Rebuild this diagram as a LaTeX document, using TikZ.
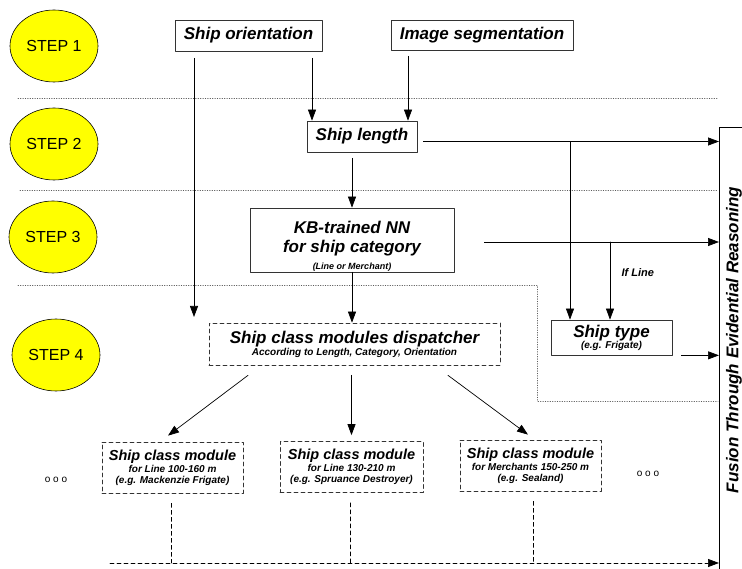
\documentclass[tikz,border=0pt]{standalone}
\usepackage{fontspec}
\setmainfont{Liberation Sans}
\usepackage{tikz}
\usetikzlibrary{arrows.meta}
\usetikzlibrary{shapes.geometric}
\definecolor{ffffqq}{rgb}{1.,1.,0.}
\definecolor{wwwwww}{rgb}{0.35,0.35,0.35}
\definecolor{uuuuuu}{rgb}{0.2,0.2,0.2}
\tikzset{
  stepnode/.style={ellipse,draw,fill=ffffqq,line width=0.6pt,minimum width=88,minimum height=72,inner sep=0pt,font=\fontsize{16}{18}\selectfont},
  box/.style={draw=uuuuuu,rectangle,inner sep=0pt,align=center,font=\fontsize{17}{20}\selectfont\bfseries\itshape},
  dashbox/.style={box,dash pattern=on 4pt off 3pt},
  modbox/.style={dashbox,minimum width=141,minimum height=51,font=\fontsize{14.5}{16}\selectfont\bfseries\itshape},
  sep/.style={wwwwww,line width=0.6pt,dash pattern=on 0.6pt off 1.8pt},
  bus/.style={dash pattern=on 4pt off 3pt}
}
\newcommand{\subtext}[1]{{\fontsize{10}{12}\selectfont #1}}
\begin{document}
\begin{tikzpicture}[line cap=round,line join=round,>={Triangle[length=11pt,width=8pt]},x=1pt,y=-1pt,line width=0.7pt]
\useasboundingbox (0,0) rectangle (742,569);
% steps
\node[stepnode] (step1) at (54,46) {STEP 1};
\node[stepnode] (step2) at (54,144) {STEP 2};
\node[stepnode] (step3) at (53,237) {STEP 3};
\node[stepnode] (step4) at (56,355) {STEP 4};
% separators between the steps
\draw[sep] (18,98) -- (718,98);
\draw[sep] (20,190) -- (718,190);
\draw[sep] (18,285) -- (537,285) -- (537,401) -- (718,401);
% boxes
\node[box,minimum width=147,minimum height=31] (orient) at (248.5,35.5) {Ship orientation};
\node[box,minimum width=182,minimum height=30] (seg) at (482,35) {Image segmentation};
\node[box,minimum width=110,minimum height=31] (length) at (362,136.5) {Ship length};
\node[box,minimum width=204,minimum height=64] (kbnn) at (352,240) {\rule{0pt}{25pt}KB-trained NN\\[-1pt]for ship category\\[-3pt]{\fontsize{9}{11}\selectfont (Line or Merchant)}};
\node[dashbox,minimum width=291,minimum height=42] (dispatch) at (354.5,344) {Ship class modules dispatcher\\[-8pt]\subtext{According to Length, Category, Orientation}};
\node[box,minimum width=121,minimum height=35] (shiptype) at (611.5,337.5) {Ship type\\[-9pt]\subtext{(e.g. Frigate)}};
\node[modbox] (mod1) at (172.5,467.5) {Ship class module\\[-4pt]\subtext{for Line 100-160 m}\\[-5pt]\subtext{(e.g. Mackenzie Frigate)}};
\node[modbox,minimum width=143] (mod2) at (351.5,467) {Ship class module\\[-4pt]\subtext{for Line 130-210 m}\\[-5pt]\subtext{(e.g. Spruance Destroyer)}};
\node[modbox] (mod3) at (530.5,465.5) {Ship class module\\[-4pt]\subtext{for Merchants 150-250 m}\\[-5pt]\subtext{(e.g. Sealand)}};
\node[font=\fontsize{10}{12}\selectfont] (dotsL) at (56,480) {o o o};
\node[font=\fontsize{10}{12}\selectfont] (dotsR) at (648,474) {o o o};
% fusion bar
\coordinate (fusionNW) at (719,127);
\draw (719,580) -- (fusionNW) -- (760,127);
\node[rotate=90,font=\fontsize{17}{20}\selectfont\bfseries\itshape] (fusion) at (734,340) {Fusion Through Evidential Reasoning};
% connectors
\coordinate (dispIn) at (194,317);
\draw [->] ([xshift=-54.5pt,yshift=-7pt]orient.south) -- (dispIn);
\draw [->] ([xshift=63.5pt,yshift=-7pt]orient.south) -- ([xshift=63.5pt]orient.south |- length.north);
\draw [->] ([xshift=-74pt,yshift=-6pt]seg.south) -- ([xshift=-74pt]seg.south |- length.north);
\draw [->,shorten <=6pt] ([yshift=-5pt]length.east) -- ([yshift=-5pt]length.east -| fusionNW);
\coordinate (lenSplit) at (570,142);
\draw [->] (lenSplit) -- (lenSplit |- shiptype.north);
\draw [->,shorten <=6pt] (length.south -| kbnn.north) -- (kbnn.north);
\draw [->,shorten <=30pt] ([yshift=-2pt]kbnn.east) -- ([yshift=-2pt]kbnn.east -| fusionNW);
\coordinate (lineSplit) at (610,242);
\draw [->] (lineSplit) -- (lineSplit |- shiptype.north) node[pos=0.4,right=8pt,font=\fontsize{11}{13}\selectfont\bfseries\itshape] (ifline) {If Line};
\draw [->] (kbnn.south) -- (kbnn.south |- dispatch.north);
\draw [->,shorten <=9pt] (shiptype.south east) -- (shiptype.south east -| fusionNW);
\draw [->] ([xshift=-106.5pt,yshift=-10pt]dispatch.south) -- ([xshift=-4.5pt,yshift=6pt]mod1.north);
\draw [->] ([yshift=-10pt]dispatch.south -| mod2.north) -- ([yshift=6pt]mod2.north);
\draw [->] ([xshift=93.5pt,yshift=-10pt]dispatch.south) -- ([xshift=-2.5pt,yshift=5pt]mod3.north);
% results to the fusion
\coordinate (busL) at (110,563);
\draw [bus] ([xshift=-1.5pt,yshift=-10pt]mod1.south) -- ([xshift=-1.5pt]mod1.south |- busL);
\draw [bus] ([xshift=-1.5pt,yshift=-10pt]mod2.south) -- ([xshift=-1.5pt]mod2.south |- busL);
\draw [bus] ([xshift=2.5pt,yshift=-10pt]mod3.south) -- ([xshift=2.5pt]mod3.south |- busL);
\draw [bus,->] (busL) -- (busL -| fusionNW);
\end{tikzpicture}
\end{document}
